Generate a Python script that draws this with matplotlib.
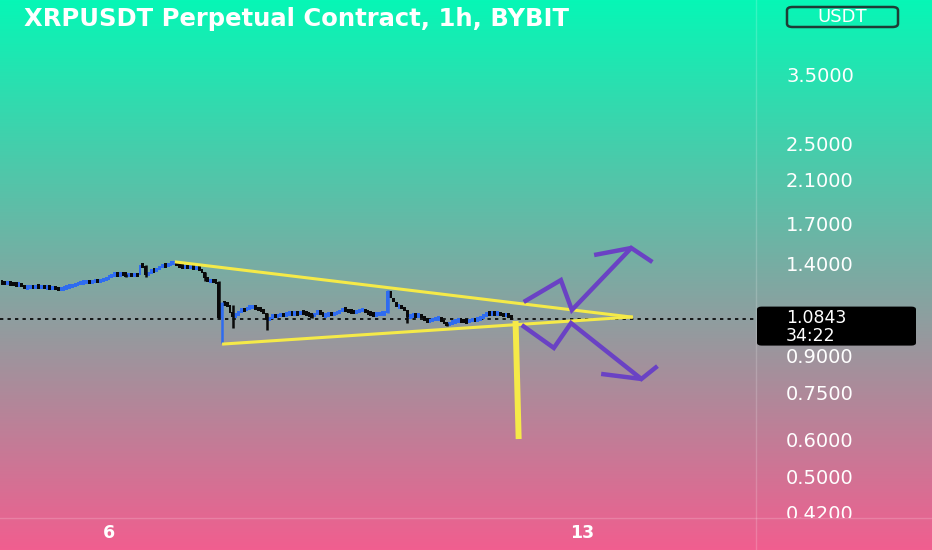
# XRPUSDT 1h chart with triangle drawing, redrawn from a screenshot.

import numpy as np
import matplotlib
matplotlib.use("Agg")  # no display here
import matplotlib.pyplot as plt
from matplotlib.patches import FancyBboxPatch
from matplotlib.lines import Line2D

# hourly closes, first candle = day 4 10:00
closes = [
    1.289, 1.285, 1.288, 1.283, 1.281, 1.276, 1.279, 1.270, 1.257, 1.262,
    1.266, 1.261, 1.268, 1.263, 1.265, 1.259, 1.262, 1.256, 1.260, 1.254,
    1.249, 1.251, 1.258, 1.264, 1.268, 1.273, 1.279, 1.284, 1.289, 1.293,
    1.296, 1.290, 1.298, 1.304, 1.297, 1.302, 1.310, 1.318, 1.326, 1.335,
    1.345, 1.339, 1.347, 1.343, 1.337, 1.341, 1.336, 1.340, 1.338, 1.402,
    1.398, 1.338, 1.352, 1.371, 1.366, 1.378, 1.389, 1.405, 1.398, 1.412,
    1.416, 1.420, 1.408, 1.397, 1.391, 1.394, 1.388, 1.392, 1.386, 1.391,
    1.372, 1.358, 1.322, 1.296, 1.303, 1.298, 1.294, 1.087, 1.169, 1.162,
    1.158, 1.112, 1.100, 1.103, 1.121, 1.132, 1.128, 1.141, 1.146, 1.148,
    1.139, 1.135, 1.130, 1.112, 1.077, 1.089, 1.101, 1.094, 1.100, 1.106,
    1.103, 1.108, 1.112, 1.109, 1.114, 1.110, 1.116, 1.115, 1.109, 1.104,
    1.098, 1.110, 1.121, 1.115, 1.098, 1.104, 1.109, 1.106, 1.112, 1.115,
    1.126, 1.136, 1.128, 1.124, 1.121, 1.117, 1.124, 1.128, 1.130, 1.120,
    1.112, 1.108, 1.103, 1.107, 1.110, 1.112, 1.112, 1.238, 1.198, 1.176,
    1.148, 1.152, 1.141, 1.128, 1.094, 1.098, 1.102, 1.099, 1.103, 1.091,
    1.080, 1.068, 1.074, 1.079, 1.083, 1.087, 1.071, 1.062, 1.051, 1.060,
    1.066, 1.072, 1.077, 1.073, 1.070, 1.068, 1.074, 1.078, 1.076, 1.082,
    1.090, 1.101, 1.112, 1.108, 1.113, 1.110, 1.112, 1.106, 1.101, 1.104,
    1.098, 1.0843,
]
first_open = 1.292

# wicks that stick out past the bodies: candle index -> (high, low)
wicks = {
    44: (1.345, 1.325),
    51: (1.402, 1.325),
    72: (1.358, 1.300),
    77: (1.298, 1.085),
    78: (1.175, 0.964),
    82: (1.158, 1.036),
    94: (1.112, 1.026),
    110: (1.110, 1.085),
    137: (1.245, 1.112),
    144: (1.130, 1.061),
    158: (1.062, 1.045),
}

last_price = 1.0843
countdown = "34:22"

price_ticks = [3.5, 2.5, 2.1, 1.7, 1.4, 0.9, 0.75, 0.6, 0.5, 0.42]
day_ticks = [38, 206]
day_labels = ["6", "13"]

# user drawings, points as (candle index, price)
tri_upper_x = [61.9, 223.5]
tri_upper_y = [1.425, 1.0925]
tri_lower_x = [78.7, 223.5]
tri_lower_y = [0.959, 1.0925]
drop_x = [182.4, 183.5]
drop_y = [1.072, 0.606]
up_path_x = [185.3, 198.5, 202.4, 223.5, 231.0]
up_path_y = [1.175, 1.306, 1.130, 1.525, 1.425]
up_barb_x = [210.3, 223.5]
up_barb_y = [1.474, 1.525]
down_path_x = [184.6, 196.0, 202.1, 227.1, 232.8]
down_path_y = [1.051, 0.941, 1.061, 0.810, 0.862]
down_barb_x = [212.8, 227.1]
down_barb_y = [0.830, 0.810]

TITLE = "XRPUSDT Perpetual Contract, 1h, BYBIT"
W, H = 932, 550
PLOT_R = 756      # right edge of the candle area, px
PLOT_B = 517.5    # bottom edge of the candle area, px

BLUE = "#2f6cf0"
BLACK = "#0a0a0a"
YELLOW = "#f5ea48"
PURPLE = "#6a42c4"

fig = plt.figure(figsize=(W / 100, H / 100), dpi=100)

# background gradient, teal at the top to pink at the bottom
top = np.array([6, 247, 182]) / 255
bottom = np.array([241, 94, 143]) / 255
t = np.linspace(0, 1, H)[:, None, None]
grad = top * (1 - t) + bottom * t
bg = fig.add_axes([0, 0, 1, 1], zorder=-10)
bg.imshow(grad, aspect="auto", extent=[0, 1, 0, 1])
bg.axis("off")

ax = fig.add_axes([0, 1 - PLOT_B / H, PLOT_R / W, PLOT_B / H])
ax.set_facecolor("none")
ax.set_yscale("log")
ax.set_xlim(-0.72, 267.8)
ax.set_ylim(0.4148, 5.053)
ax.axis("off")

# candles
closes = np.array(closes)
opens = np.concatenate([[first_open], closes[:-1]])
x = np.arange(len(closes))
colors = [BLUE if c >= o else BLACK for o, c in zip(opens, closes)]
lo = np.minimum(opens, closes)
hi = np.maximum(opens, closes)
thin = hi / lo < 1.022
mid = np.sqrt(hi * lo)
lo = np.where(thin, mid / 1.011, lo)
hi = np.where(thin, mid * 1.011, hi)
ax.bar(x, hi - lo, bottom=lo, width=1.0, color=colors, linewidth=0, zorder=3)
for i, (wh, wl) in wicks.items():
    ax.vlines(i, wl, wh, color=colors[i], linewidth=1.8, zorder=3)

ax.axhline(last_price, color="black", linestyle=(0, (2, 2.5)), linewidth=1.2, zorder=2)

# drawings
ax.plot(tri_upper_x, tri_upper_y, color=YELLOW, linewidth=2.2, zorder=4)
ax.plot(tri_lower_x, tri_lower_y, color=YELLOW, linewidth=2.2, zorder=4)
ax.plot(drop_x, drop_y, color=YELLOW, linewidth=4.3, solid_capstyle="butt", zorder=4)
for px, py in [(up_path_x, up_path_y), (up_barb_x, up_barb_y),
               (down_path_x, down_path_y), (down_barb_x, down_barb_y)]:
    ax.plot(px, py, color=PURPLE, linewidth=3.2, solid_joinstyle="miter",
            solid_capstyle="butt", zorder=5)

# day labels under the plot
for d, lab in zip(day_ticks, day_labels):
    ax.text(d, -(533 - PLOT_B) / PLOT_B, lab, transform=ax.get_xaxis_transform(),
            ha="center", va="center", fontsize=12.5, fontweight="bold",
            color="white", clip_on=False)

# price scale
axp = fig.add_axes([PLOT_R / W, 1 - PLOT_B / H, (W - PLOT_R) / W, PLOT_B / H])
axp.set_facecolor("none")
axp.set_yscale("log")
axp.set_ylim(0.4148, 5.053)
axp.set_xlim(0, 1)
axp.axis("off")
for p in price_ticks:
    axp.text((786 - PLOT_R) / (W - PLOT_R), p, f"{p:.4f}",
             transform=axp.get_yaxis_transform(), ha="left", va="center",
             fontsize=14, color="white", clip_on=True)

# separator lines
fig.add_artist(Line2D([PLOT_R / W, PLOT_R / W], [0, 1], color="white",
                      alpha=0.18, linewidth=1))
fig.add_artist(Line2D([0, 1], [1 - PLOT_B / H, 1 - PLOT_B / H], color="white",
                      alpha=0.18, linewidth=1))

# last price tag
y_fig = fig.transFigure.inverted().transform(ax.transData.transform((0, last_price)))[1]
tag = FancyBboxPatch((757 / W, y_fig - 27 / H), (916 - 757) / W, 39 / H,
                     boxstyle="round,pad=0,rounding_size=0.005",
                     transform=fig.transFigure, facecolor="black", edgecolor="none",
                     zorder=6)
fig.add_artist(tag)
fig.text(786 / W, y_fig + 1 / H, f"{last_price:.4f}", ha="left", va="center",
         fontsize=12.5, color="white", zorder=7)
fig.text(786 / W, y_fig - 17 / H, countdown, ha="left", va="center",
         fontsize=12.5, color="white", zorder=7)

# currency button
btn = FancyBboxPatch((787 / W, 1 - 27 / H), 111 / W, 20 / H,
                     boxstyle="round,pad=0,rounding_size=0.006",
                     transform=fig.transFigure, facecolor="none",
                     edgecolor="#1d3d36", linewidth=1.8)
fig.add_artist(btn)
fig.text(842.5 / W, 1 - 17 / H, "USDT", ha="center", va="center",
         fontsize=13, color="white")

fig.text(24 / W, 1 - 19 / H, TITLE, ha="left", va="center", fontsize=17.5,
         fontweight="bold", color="white")

fig.savefig("out.png", dpi=100)
plt.close(fig)
